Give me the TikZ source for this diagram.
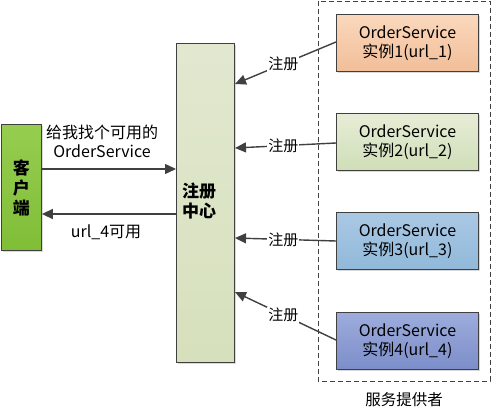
\documentclass[tikz,border=0pt]{standalone}
\usepackage{fontspec}
\setmainfont{Noto Sans CJK SC}
\usetikzlibrary{arrows.meta,shadows}
\definecolor{ln}{HTML}{404040}
\tikzset{
  box/.style={draw=ln, line width=0.9pt, inner sep=0pt, anchor=north west,
    drop shadow={shadow xshift=2pt, shadow yshift=-2pt, fill=black!25, opacity=0.6}},
  conn/.style={draw=ln, line width=1.4pt, -{Triangle[length=11pt,width=10pt]}},
  lbl/.style={fill=white, inner sep=1pt, font=\fontsize{15}{17}\selectfont},
  btxt/.style={font=\fontsize{16}{19}\selectfont, align=center},
}
\begin{document}
\begin{tikzpicture}[x=1pt,y=-1pt]
\useasboundingbox (0,0) rectangle (493,415);
% dashed provider region
\draw[ln, line width=0.9pt, dash pattern=on 5pt off 3pt] (318,1) rectangle (490,381);
\node[font=\fontsize{15.5}{17}\selectfont] (prov) at (404,400) {服务提供者};
% client
\node[box, minimum width=40pt, minimum height=126pt, top color={rgb,255:red,150;green,205;blue,80}, bottom color={rgb,255:red,128;green,190;blue,55}] (cli) at (1,124) {};
\node[font=\bfseries\fontsize{17}{20}\selectfont, align=center] (clit) at (cli.center) {客\\户\\端};
% registry
\node[box, minimum width=58pt, minimum height=319pt, top color={rgb,255:red,226;green,232;blue,208}, bottom color={rgb,255:red,214;green,224;blue,188}] (reg) at (176,43) {};
\node[font=\bfseries\fontsize{17}{20}\selectfont, align=center] (regt) at (199,201) {注册\\中心};
% instances
\node[box, minimum width=142pt, minimum height=57pt, top color={rgb,255:red,250;green,216;blue,189}, bottom color={rgb,255:red,242;green,190;blue,152}] (i1) at (336,14) {};
\node[box, minimum width=142pt, minimum height=57pt, top color={rgb,255:red,230;green,237;blue,214}, bottom color={rgb,255:red,208;green,222;blue,184}] (i2) at (336,113) {};
\node[box, minimum width=142pt, minimum height=57pt, top color={rgb,255:red,170;green,200;blue,228}, bottom color={rgb,255:red,145;green,185;blue,218}] (i3) at (336,212) {};
\node[box, minimum width=142pt, minimum height=57pt, top color={rgb,255:red,158;green,172;blue,220}, bottom color={rgb,255:red,124;green,142;blue,202}] (i4) at (336,312) {};
\node[btxt] (t1) at (i1.center) {OrderService\\实例1(url\_1)};
\node[btxt] (t2) at (i2.center) {OrderService\\实例2(url\_2)};
\node[btxt] (t3) at (i3.center) {OrderService\\实例3(url\_3)};
\node[btxt] (t4) at (i4.center) {OrderService\\实例4(url\_4)};
% registration arrows
\coordinate (r1) at (235,84);
\coordinate (r2) at (235,148);
\coordinate (r3) at (235,238);
\coordinate (r4) at (235,292);
\draw[conn] (i1.west |- 0,42) -- node[lbl, pos=0.52] {注册} (r1);
\draw[conn] (i2.west |- 0,143) -- node[lbl, pos=0.52] {注册} (r2);
\draw[conn] (i3.west |- 0,241) -- node[lbl, pos=0.52] {注册} (r3);
\draw[conn] (i4.west |- 0,340) -- node[lbl, pos=0.52] {注册} (r4);
% client arrows
\draw[conn] (cli.east |- 0,169) -- (reg.west |- 0,169);
\draw[conn] (reg.west |- 0,214) -- (cli.east |- 0,214);
\node[btxt] (q) at (102,141) {给我找个可用的\\OrderService};
\node[font=\fontsize{16}{19}\selectfont] (a) at (106,232) {url\_4可用};
\end{tikzpicture}
\end{document}
